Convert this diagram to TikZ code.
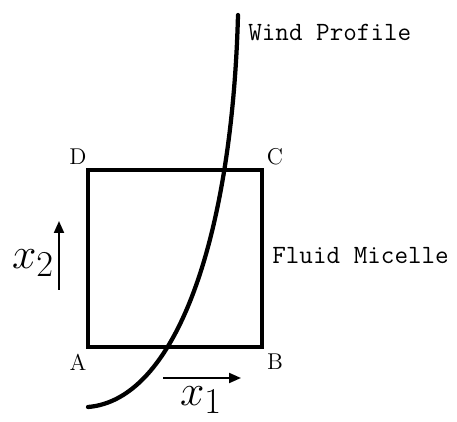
\documentclass[tikz,border=0pt]{standalone}
\usepackage{tikz}
\usetikzlibrary{arrows.meta}

\begin{document}
\begin{tikzpicture}[
    x=0.02cm, y=-0.02cm,
    corner/.style={font=\fontsize{13}{15}\selectfont, inner sep=0pt},
    tag/.style={font=\ttfamily\fontsize{15}{18}\selectfont, inner sep=0pt, anchor=base west},
    axis/.style={font=\fontsize{28}{32}\selectfont, inner sep=0pt},
    box/.style={line width=0.08cm, line join=miter},
    profile/.style={line width=0.085cm, line cap=round},
    arrow/.style={-{Triangle[length=0.24cm, width=0.2cm]}, line width=0.04cm}
]
\useasboundingbox (0,0) rectangle (457,422);

% === Fluid micelle ===
\coordinate (A) at (88,347);
\coordinate (B) at (262,347);
\coordinate (C) at (262,170);
\coordinate (D) at (88,170);
\draw[box] (A) -- (B) -- (C) -- (D) -- cycle;

\node[corner] (la) at (78,362) {A};
\node[corner] (lb) at (275,362) {B};
\node[corner] (lc) at (275,157) {C};
\node[corner] (ld) at (78,157) {D};

% === Wind profile ===
\coordinate (pbot) at (88,407);
\coordinate (ptop) at (238,15);
\draw[profile] (pbot) .. controls (175,400) and (232,240) .. (ptop);

% === Labels ===
\node[tag] (wind) at (248,41) {Wind Profile};
\node[tag] (micelle) at (272,264) {Fluid Micelle};

% === Axes ===
\coordinate (x1s) at (163,378);
\coordinate (x1e) at (241,378);
\draw[arrow] (x1s) -- (x1e);
\node[axis] (x1) at (201,400) {$x_1$};

\coordinate (x2s) at (59,290);
\coordinate (x2e) at (59,221);
\draw[arrow] (x2s) -- (x2e);
\node[axis] (x2) at (33,263) {$x_2$};

\end{tikzpicture}
\end{document}
